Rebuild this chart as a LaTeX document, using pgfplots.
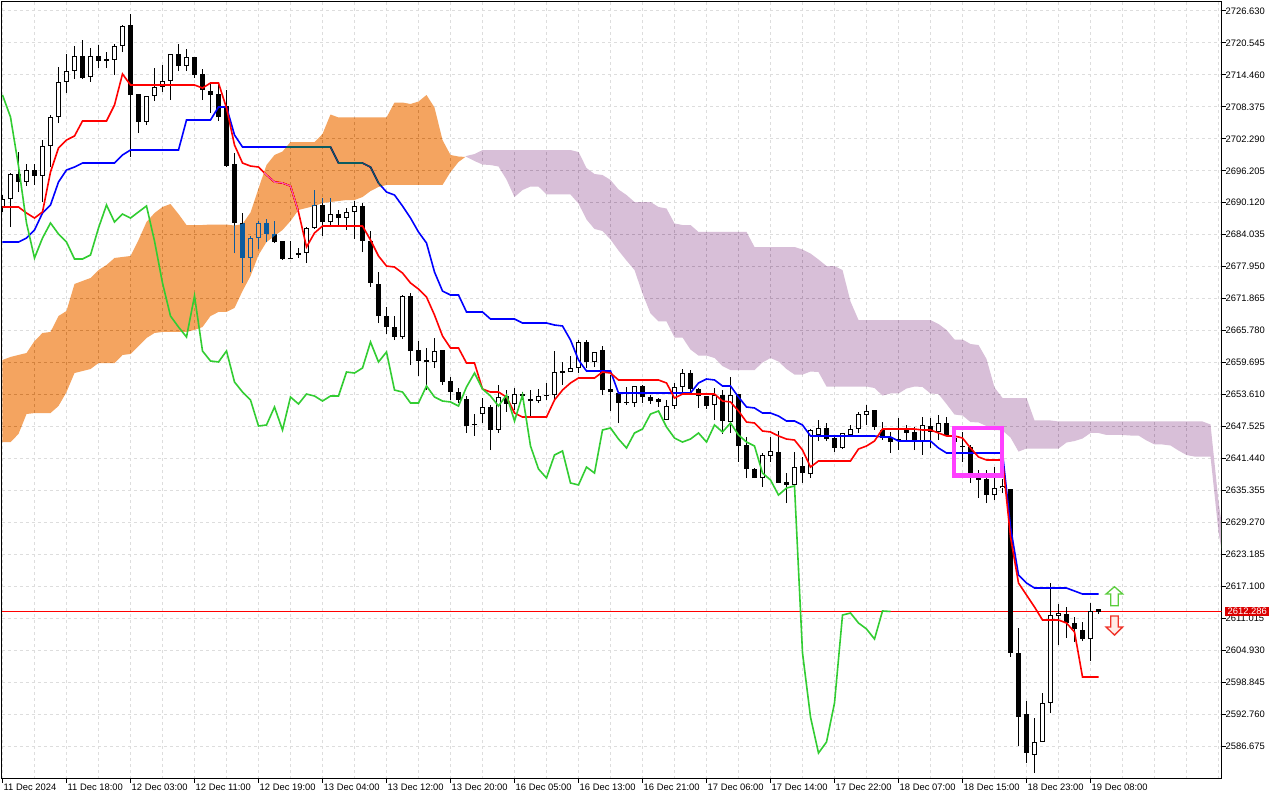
\documentclass[border=0pt]{standalone}
\usepackage{fontspec}
\setmainfont{Liberation Sans}
\usepackage{pgfplots}
\usepackage{pgfplotstable}
\pgfplotsset{compat=1.18}
\definecolor{tenkan}{RGB}{255,0,0}
\definecolor{kijun}{RGB}{0,0,255}
\definecolor{chikou}{RGB}{50,205,50}
\definecolor{sandyinv}{RGB}{11,91,159}
\definecolor{thistleinv}{RGB}{39,64,39}
\definecolor{gridc}{RGB}{221,221,221}
\definecolor{magbox}{RGB}{255,64,255}
\definecolor{pricec}{RGB}{220,0,0}
\definecolor{arrg}{RGB}{90,205,60}
\definecolor{arrr}{RGB}{240,50,40}

\pgfplotstableread{
x o h l c
0 2689.31 2691.59 2688.36 2690.83
1 2690.83 2695.78 2685.50 2695.59
2 2695.59 2699.78 2692.16 2694.07
3 2694.07 2697.49 2693.31 2696.35
4 2696.35 2697.49 2693.50 2695.21
5 2695.21 2702.06 2690.26 2700.92
6 2700.92 2706.82 2696.92 2706.44
7 2706.44 2715.96 2705.30 2713.11
8 2713.11 2718.44 2711.01 2715.20
9 2715.20 2719.96 2713.68 2718.06
10 2718.06 2721.10 2713.68 2713.87
11 2714.06 2719.58 2713.11 2718.06
12 2718.06 2720.15 2715.77 2717.11
13 2717.11 2718.82 2715.77 2717.49
14 2717.30 2720.34 2714.44 2719.96
15 2719.96 2723.96 2718.82 2723.77
16 2723.96 2726.05 2698.83 2710.63
17 2710.82 2710.82 2703.40 2705.49
18 2705.49 2710.44 2704.92 2710.44
19 2710.44 2715.77 2709.49 2712.16
20 2712.16 2716.34 2711.20 2713.30
21 2713.30 2718.44 2709.68 2718.44
22 2718.44 2720.34 2715.20 2716.15
23 2716.15 2719.39 2715.20 2717.87
24 2717.87 2717.87 2713.87 2714.44
25 2714.63 2715.58 2709.68 2711.58
26 2711.39 2713.11 2707.20 2710.63
27 2710.82 2713.11 2705.68 2706.44
28 2708.54 2711.58 2696.92 2697.11
29 2697.49 2699.59 2680.55 2686.26
30 2686.26 2688.16 2674.84 2679.60
31 2679.60 2683.79 2676.93 2683.40
32 2683.40 2686.64 2681.31 2686.26
33 2686.26 2687.02 2682.64 2684.17
34 2684.17 2686.64 2682.45 2682.64
35 2682.83 2682.83 2679.22 2679.41
36 2679.60 2682.83 2679.41 2679.41
37 2680.55 2681.50 2679.60 2680.17
38 2680.55 2685.50 2678.64 2685.31
39 2685.31 2692.54 2685.12 2689.69
40 2689.69 2691.02 2683.79 2686.45
41 2686.45 2691.02 2685.50 2687.97
42 2687.97 2688.74 2685.50 2687.21
43 2687.21 2689.12 2684.93 2688.36
44 2688.36 2690.45 2683.21 2689.50
45 2689.50 2690.07 2680.74 2682.83
46 2682.83 2684.74 2674.08 2674.84
47 2674.65 2676.93 2667.22 2668.55
48 2668.55 2670.27 2665.13 2666.46
49 2666.46 2668.55 2663.98 2664.56
50 2664.56 2672.55 2664.17 2672.36
51 2672.36 2672.93 2659.22 2661.89
52 2662.08 2663.79 2657.13 2659.99
53 2660.18 2662.46 2654.46 2659.80
54 2659.80 2664.36 2658.65 2661.89
55 2662.08 2662.08 2655.42 2655.99
56 2656.18 2656.94 2652.56 2654.08
57 2654.08 2654.84 2651.99 2652.56
58 2652.75 2653.32 2646.28 2647.61
59 2647.99 2649.89 2645.71 2647.80
60 2649.89 2652.94 2648.18 2651.23
61 2651.23 2651.61 2643.04 2646.85
62 2646.85 2655.42 2646.28 2653.13
63 2653.32 2654.46 2650.28 2651.80
64 2651.80 2654.84 2650.66 2653.70
65 2653.70 2654.08 2652.56 2653.32
66 2652.75 2654.46 2649.32 2652.37
67 2652.37 2654.65 2651.99 2653.32
68 2653.45 2655.80 2652.56 2653.32
69 2653.51 2661.89 2652.56 2657.89
70 2658.08 2659.80 2655.42 2657.70
71 2657.89 2660.94 2657.89 2658.65
72 2658.65 2663.98 2657.70 2663.60
73 2663.60 2663.98 2658.65 2659.80
74 2659.80 2661.70 2658.84 2661.70
75 2662.08 2662.84 2653.51 2654.46
76 2654.65 2657.32 2650.47 2654.08
77 2653.89 2653.89 2648.18 2651.99
78 2652.10 2655.04 2651.61 2651.99
79 2651.99 2655.23 2651.23 2655.23
80 2655.23 2655.42 2651.99 2653.13
81 2653.13 2653.51 2651.80 2652.37
82 2652.75 2652.94 2651.23 2652.18
83 2648.75 2652.56 2648.75 2651.42
84 2651.42 2655.80 2650.85 2655.04
85 2655.04 2658.46 2654.08 2657.70
86 2657.70 2658.27 2653.89 2654.65
87 2654.65 2654.84 2651.04 2653.32
88 2653.32 2653.32 2650.85 2651.42
89 2651.61 2654.84 2648.75 2653.51
90 2653.51 2654.46 2646.09 2648.56
91 2648.37 2656.94 2646.28 2653.51
92 2653.70 2653.70 2640.76 2643.80
93 2643.99 2645.52 2637.71 2639.42
94 2639.42 2639.61 2637.71 2637.71
95 2637.71 2642.47 2636.00 2642.09
96 2641.90 2645.52 2640.76 2642.85
97 2642.66 2646.66 2636.76 2636.76
98 2636.95 2638.66 2632.95 2636.38
99 2636.38 2642.66 2635.42 2639.80
100 2639.99 2641.71 2636.76 2638.66
101 2638.47 2647.04 2637.71 2646.85
102 2645.90 2648.75 2644.75 2647.23
103 2647.23 2648.18 2644.75 2645.13
104 2645.32 2645.52 2642.66 2643.42
105 2643.42 2646.28 2643.23 2646.28
106 2645.90 2647.80 2645.90 2647.04
107 2647.04 2650.28 2646.28 2649.89
108 2649.70 2651.61 2647.80 2650.47
109 2650.66 2650.66 2646.85 2647.42
110 2646.85 2648.37 2644.94 2645.32
111 2645.52 2646.47 2642.47 2644.56
112 2644.75 2649.13 2643.04 2645.13
113 2646.85 2647.80 2644.94 2646.28
114 2646.47 2647.42 2643.04 2644.56
115 2644.56 2649.32 2642.09 2647.80
116 2647.61 2649.13 2643.42 2646.47
117 2646.47 2649.70 2644.94 2648.18
118 2648.18 2649.32 2645.71 2645.90
119 2645.32 2646.85 2643.04 2644.56
120 2643.61 2646.47 2640.76 2643.80
121 2643.61 2643.99 2636.76 2638.66
122 2638.47 2639.23 2633.90 2637.33
123 2637.52 2639.23 2632.95 2634.47
124 2634.47 2639.80 2633.52 2635.80
125 2635.80 2637.52 2634.85 2636.19
126 2635.61 2635.61 2603.63 2604.39
127 2604.39 2609.15 2586.68 2592.20
128 2592.77 2595.25 2583.44 2585.35
129 2584.97 2592.01 2581.54 2587.44
130 2587.44 2596.77 2587.44 2594.87
131 2594.87 2617.72 2592.96 2611.62
132 2611.43 2613.72 2605.91 2612.00
133 2611.81 2613.15 2607.24 2610.10
134 2610.10 2611.24 2606.48 2608.96
135 2608.77 2610.29 2606.67 2607.05
136 2607.05 2613.91 2602.87 2612.39
137 2612.77 2612.77 2611.81 2612.29
}\candles

\pgfplotstableread{
x t k
0 2689.31 2682.64
1 2689.31 2682.64
2 2689.31 2682.64
3 2688.16 2683.40
4 2687.21 2684.93
5 2688.36 2688.16
6 2695.97 2689.69
7 2700.54 2694.07
8 2702.06 2696.35
9 2702.83 2696.92
10 2705.68 2697.68
11 2705.68 2697.68
12 2705.68 2697.68
13 2705.68 2697.68
14 2708.73 2697.68
15 2714.63 2699.21
16 2712.54 2700.16
17 2712.54 2700.16
18 2712.54 2700.16
19 2712.54 2700.16
20 2712.54 2700.16
21 2712.54 2700.16
22 2712.54 2700.16
23 2712.54 2705.87
24 2712.54 2705.87
25 2711.96 2705.87
26 2712.92 2705.87
27 2712.92 2708.35
28 2708.16 2708.35
29 2701.11 2703.02
30 2697.68 2700.73
31 2697.11 2700.73
32 2696.92 2700.73
33 2695.40 2700.73
34 2694.07 2700.73
35 2693.88 2700.73
36 2693.31 2700.73
37 2688.36 2700.73
38 2681.69 2700.73
39 2684.36 2700.73
40 2685.69 2700.73
41 2685.69 2700.73
42 2685.69 2697.68
43 2685.69 2697.68
44 2685.69 2697.68
45 2685.69 2697.68
46 2683.02 2696.92
47 2679.98 2693.88
48 2678.07 2692.16
49 2677.88 2691.59
50 2676.74 2689.50
51 2674.84 2687.21
52 2673.69 2684.55
53 2672.17 2682.45
54 2668.74 2676.93
55 2664.75 2673.31
56 2662.46 2672.55
57 2662.46 2672.55
58 2659.60 2669.32
59 2659.60 2669.32
60 2654.65 2669.32
61 2654.08 2667.98
62 2654.08 2667.98
63 2653.13 2667.98
64 2650.08 2667.98
65 2649.32 2667.22
66 2649.32 2667.22
67 2649.32 2667.22
68 2649.32 2667.22
69 2652.56 2666.84
70 2654.46 2666.65
71 2655.80 2663.98
72 2656.75 2660.18
73 2656.75 2658.08
74 2656.75 2658.08
75 2657.89 2658.08
76 2657.70 2658.08
77 2656.37 2653.89
78 2656.37 2653.89
79 2656.37 2653.89
80 2656.37 2653.89
81 2656.37 2653.89
82 2656.37 2653.89
83 2655.80 2653.89
84 2652.94 2653.89
85 2653.70 2653.89
86 2653.70 2653.89
87 2653.70 2655.80
88 2653.70 2656.56
89 2653.70 2656.37
90 2652.37 2655.23
91 2652.18 2655.23
92 2650.47 2653.13
93 2648.37 2651.23
94 2648.18 2651.04
95 2646.66 2650.08
96 2646.47 2650.08
97 2645.71 2649.51
98 2645.13 2648.56
99 2644.94 2648.56
100 2643.04 2647.80
101 2639.80 2645.71
102 2640.95 2645.71
103 2640.95 2645.71
104 2640.95 2645.71
105 2640.95 2645.71
106 2640.95 2645.71
107 2643.23 2645.71
108 2643.80 2645.71
109 2644.75 2645.71
110 2647.04 2645.52
111 2647.04 2645.52
112 2647.04 2644.75
113 2647.04 2644.75
114 2647.04 2644.75
115 2646.85 2644.75
116 2646.85 2644.75
117 2646.28 2643.42
118 2645.71 2642.47
119 2645.71 2642.47
120 2645.32 2642.47
121 2643.42 2642.47
122 2641.71 2642.47
123 2641.14 2642.47
124 2641.14 2642.47
125 2641.14 2642.47
126 2626.48 2628.38
127 2617.72 2619.24
128 2615.43 2617.72
129 2613.15 2616.76
130 2610.67 2616.76
131 2610.67 2616.76
132 2610.67 2616.76
133 2610.10 2616.76
134 2608.39 2616.19
135 2599.82 2615.62
136 2599.82 2615.62
137 2599.82 2615.62
}\tk

\pgfplotstableread{
x g
0 2710.63
1 2706.44
2 2697.11
3 2686.26
4 2679.60
5 2683.40
6 2686.26
7 2684.17
8 2682.64
9 2679.41
10 2679.41
11 2680.17
12 2685.31
13 2689.69
14 2686.45
15 2687.97
16 2687.21
17 2688.36
18 2689.50
19 2682.83
20 2674.84
21 2668.55
22 2666.46
23 2664.56
24 2672.36
25 2661.89
26 2659.99
27 2659.80
28 2661.89
29 2655.99
30 2654.08
31 2652.56
32 2647.61
33 2647.80
34 2651.23
35 2646.85
36 2653.13
37 2651.80
38 2653.70
39 2653.32
40 2652.37
41 2653.32
42 2653.32
43 2657.89
44 2657.70
45 2658.65
46 2663.60
47 2659.80
48 2661.70
49 2654.46
50 2654.08
51 2651.99
52 2651.99
53 2655.23
54 2653.13
55 2652.37
56 2652.18
57 2651.42
58 2655.04
59 2657.70
60 2654.65
61 2653.32
62 2651.42
63 2653.51
64 2648.56
65 2653.51
66 2643.80
67 2639.42
68 2637.71
69 2642.09
70 2642.85
71 2636.76
72 2636.38
73 2639.80
74 2638.66
75 2646.85
76 2647.23
77 2645.13
78 2643.42
79 2646.28
80 2647.04
81 2649.89
82 2650.47
83 2647.42
84 2645.32
85 2644.56
86 2645.13
87 2646.28
88 2644.56
89 2647.80
90 2646.47
91 2648.18
92 2645.90
93 2644.56
94 2643.80
95 2638.66
96 2637.33
97 2634.47
98 2635.80
99 2636.19
100 2604.39
101 2592.20
102 2585.35
103 2587.44
104 2594.87
105 2611.62
106 2612.00
107 2610.10
108 2608.96
109 2607.05
110 2612.39
111 2612.29
}\chikou

\begin{document}
\begin{tikzpicture}
\useasboundingbox (0,0) rectangle (1280pt,800pt);
\fill[white] (0,0) rectangle (1280pt,800pt);
\begin{axis}[
  at={(2pt,21pt)}, anchor=south west, scale only axis,
  width=1219.5pt, height=777pt,
  xmin=-0.0625, xmax=152.375, ymin=2580.40, ymax=2728.343,
  axis line style={line width=1pt, black},
  xtick={0,8,...,136},
  xticklabels={11 Dec 2024,11 Dec 18:00,12 Dec 03:00,12 Dec 11:00,12 Dec 19:00,13 Dec 04:00,13 Dec 12:00,13 Dec 20:00,16 Dec 05:00,16 Dec 13:00,16 Dec 21:00,17 Dec 06:00,17 Dec 14:00,17 Dec 22:00,18 Dec 07:00,18 Dec 15:00,18 Dec 23:00,19 Dec 08:00},
  minor xtick={4,12,...,148,144,152},
  ytick={2726.630,2720.545,2714.460,2708.375,2702.290,2696.205,2690.120,2684.035,2677.950,2671.865,2665.780,2659.695,2653.610,2647.525,2641.440,2635.355,2629.270,2623.185,2617.100,2611.015,2604.930,2598.845,2592.760,2586.675},
  yticklabels={2726.630,2720.545,2714.460,2708.375,2702.290,2696.205,2690.120,2684.035,2677.950,2671.865,2665.780,2659.695,2653.610,2647.525,2641.440,2635.355,2629.270,2623.185,2617.100,2611.015,2604.930,2598.845,2592.760,2586.675},
  ytick pos=right, yticklabel pos=right, xtick pos=bottom,
  tick align=outside, major tick length=4pt, minor tick length=0pt,
  tick style={black, line width=1pt},
  grid=both,
  major grid style={gridc, line width=1pt, dash pattern=on 3pt off 3pt},
  minor grid style={gridc, line width=1pt, dash pattern=on 3pt off 3pt},
  ticklabel style={font=\fontsize{9.4}{10}\selectfont},
  xticklabel style={anchor=north west, inner sep=0pt, xshift=1pt, yshift=-1pt},
  yticklabel style={anchor=west, inner sep=0pt},
]
% current price (drawn first, under the candles)
\addplot[color=red, line width=1.2pt] table[row sep=\\] {x y\\ -0.0625 2612.286\\ 152.375 2612.286\\};
% wicks
\addplot[draw=none, mark=none, error bars/.cd, y dir=plus, y explicit, error mark=none,
  error bar style={line width=1pt, draw=black}]
  table[x=x, y=l, y error expr=\thisrow{h}-\thisrow{l}] {\candles};
% bodies
\addplot[draw=none, mark=none, error bars/.cd, y dir=plus, y explicit, error mark=none,
  error bar style={line width=5pt, draw=black}]
  table[x=x, y expr={min(\thisrow{o},\thisrow{c})}, y error expr={max(abs(\thisrow{c}-\thisrow{o}),0.19)}] {\candles};
\addplot[draw=none, mark=none, error bars/.cd, y dir=plus, y explicit, error mark=none,
  error bar style={line width=3pt, draw=white}]
  table[x=x, y expr=\thisrow{o}+0.19, y error expr={max(\thisrow{c}-\thisrow{o}-0.38,0)}] {\candles};
% kijun, tenkan
\addplot[kijun, line width=1.6pt] table[x=x, y=k] {\tk};
\addplot[tenkan, line width=1.6pt] table[x=x, y=t] {\tk};
% cloud (difference blend reproduces the terminal's inverted colours)
\addplot[fill=sandyinv, draw=none, blend mode=difference] coordinates {
(0,2660.18) (1,2660.75) (2,2661.13) (3,2661.51) (4,2663.79) (5,2665.32) (6,2665.51) (7,2668.55) (8,2669.51) (9,2674.65) (10,2675.22) (11,2675.79) (12,2677.31) (13,2678.26) (14,2679.60) (15,2679.79) (16,2679.98) (17,2683.02) (18,2686.45) (19,2688.16) (20,2689.31) (21,2689.88) (22,2687.97) (23,2685.88) (24,2685.88) (25,2685.88) (26,2685.97) (27,2685.97) (28,2685.97) (29,2685.78) (30,2686.07) (31,2688.26) (32,2692.83) (33,2697.30) (34,2699.21) (35,2699.87) (36,2701.68) (37,2701.68) (38,2701.68) (39,2701.68) (40,2703.21) (41,2706.92) (42,2706.35) (43,2706.35) (44,2706.35) (45,2706.35) (46,2706.35) (47,2706.35) (48,2706.35) (49,2709.20) (50,2709.20) (51,2708.92) (52,2709.39) (53,2710.63) (54,2708.25) (55,2702.06) (56,2699.21) (57,2698.92)
(57.85,2698.84)
(57,2697.88) (56,2695.97) (55,2693.50) (54,2693.50) (53,2693.50) (52,2693.50) (51,2693.50) (50,2693.50) (49,2693.50) (48,2693.50) (47,2693.12) (46,2692.35) (45,2691.21) (44,2690.64) (43,2690.64) (42,2690.45) (41,2690.26) (40,2690.07) (39,2689.50) (38,2689.12) (37,2688.74) (36,2686.64) (35,2684.93) (34,2683.79) (33,2682.64) (32,2680.17) (31,2676.17) (30,2673.31) (29,2670.08) (28,2669.32) (27,2669.32) (26,2668.55) (25,2666.46) (24,2665.89) (23,2665.51) (22,2665.51) (21,2665.51) (20,2665.51) (19,2665.32) (18,2664.36) (17,2662.84) (16,2661.32) (15,2661.13) (14,2659.60) (13,2659.60) (12,2659.60) (11,2658.46) (10,2658.08) (9,2657.70) (8,2654.08) (7,2651.42) (6,2650.08) (5,2650.08) (4,2650.08) (3,2649.89) (2,2646.09) (1,2644.56) (0,2644.56)
} -- cycle;
\addplot[fill=thistleinv, draw=none, blend mode=difference] coordinates {
(57.85,2698.84)
(58,2699.02) (59,2699.40) (60,2700.16) (71,2700.16) (72,2699.78) (73,2696.73) (74,2695.59) (75,2695.40) (76,2694.45) (77,2692.64) (78,2691.59) (79,2690.26) (81,2690.26) (82,2689.31) (83,2689.02) (84,2686.17) (85,2685.88) (86,2685.88) (87,2684.55) (93,2684.55) (94,2681.69) (99,2681.69) (100,2681.21) (101,2680.45) (102,2679.31) (103,2678.07) (104,2678.07) (105,2677.31) (106,2671.31) (107,2667.79) (116,2667.79) (117,2667.03) (118,2665.89) (119,2664.08) (120,2664.08) (121,2663.22) (122,2663.03) (123,2660.37) (124,2654.94) (125,2652.94) (128,2652.94) (129,2648.66) (131,2648.66) (132,2648.47) (150,2648.47) (151,2647.90) (152,2633.23) (153,2622.57)
(153,2618.48) (152,2627.43) (151,2641.80) (150,2641.80) (149,2641.80) (148,2642.09) (147,2642.94) (146,2643.90) (145,2644.09) (144,2644.09) (143,2644.85) (142,2645.80) (141,2645.80) (140,2645.90) (139,2645.90) (138,2645.90) (137,2646.28) (136,2646.28) (135,2645.23) (134,2644.75) (133,2644.47) (132,2643.32) (131,2643.32) (130,2643.32) (129,2643.32) (128,2643.32) (127,2642.75) (126,2645.42) (125,2646.75) (124,2646.85) (123,2647.61) (122,2648.28) (121,2648.37) (120,2649.61) (119,2649.80) (118,2651.80) (117,2653.70) (116,2653.80) (115,2655.04) (114,2655.13) (113,2654.75) (112,2653.80) (111,2653.80) (110,2653.41) (109,2654.84) (108,2655.13) (103,2655.13) (102,2657.89) (101,2657.98) (100,2657.41) (99,2657.41) (98,2658.46) (97,2659.89) (96,2660.56) (95,2659.70) (94,2658.27) (91,2658.27) (90,2659.03) (89,2660.56) (88,2661.03) (87,2661.03) (86,2662.17) (85,2664.46) (84,2664.46) (83,2667.51) (82,2667.51) (81,2669.03) (80,2672.84) (79,2677.31) (78,2679.12) (77,2681.02) (76,2683.12) (75,2684.74) (74,2685.12) (73,2686.93) (72,2689.97) (71,2691.69) (68,2691.69) (67,2693.21) (66,2693.21) (65,2692.54) (64,2691.21) (63,2694.54) (62,2697.02) (61,2697.30) (60,2697.40) (59,2698.07) (58,2698.83)
} -- cycle;
% chikou
\addplot[chikou, line width=1.6pt, blend mode=normal] table[x=x, y=g] {\chikou};
% marked zone
\addplot[magbox, line width=4.3pt, blend mode=normal] coordinates {(118.9,2647.23) (124.94,2647.23) (124.94,2638.18) (118.9,2638.18)} -- cycle;
% arrows
\addplot[arrg, line width=1.3pt, fill=white, line join=miter, blend mode=normal] coordinates {(139.0,2617.01) (140.02,2615.62) (139.47,2615.62) (139.47,2613.39) (138.52,2613.39) (138.52,2615.62) (137.94,2615.62)} -- cycle;
\addplot[arrr, line width=1.3pt, fill={rgb,255:red,255;green,236;blue,230}, line join=miter, blend mode=normal] coordinates {(138.52,2611.43) (139.47,2611.43) (139.47,2609.34) (140.02,2609.34) (139.0,2607.80) (137.94,2609.34) (138.52,2609.34)} -- cycle;
\coordinate (pl) at (axis cs:152.375,2612.286);
\end{axis}
\node[fill=pricec, text=white, anchor=west, inner xsep=2.5pt, inner ysep=0pt, minimum height=9.5pt, font=\fontsize{9.4}{10}\selectfont] at ([xshift=3.5pt]pl) {2612.286};
\end{tikzpicture}
\end{document}
